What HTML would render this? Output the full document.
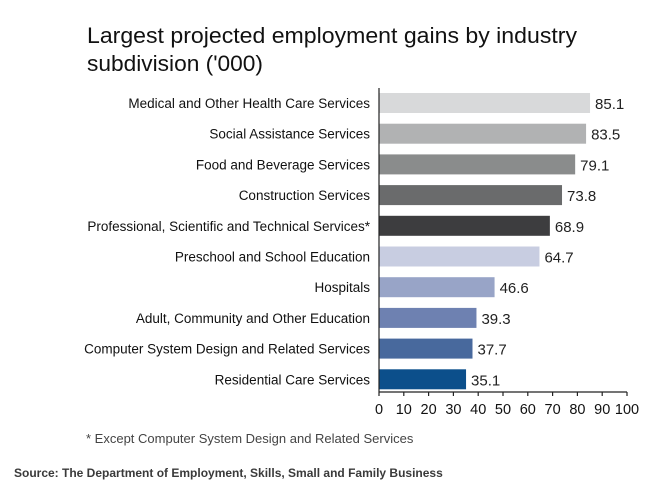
<!DOCTYPE html>
<html><head><meta charset="utf-8"><style>
html,body{margin:0;padding:0;background:#fff;}
svg{display:block;font-family:"Liberation Sans",Arial,sans-serif;}
</style></head><body>
<svg id="chart" width="660" height="499" viewBox="0 0 660 499">
<text x="87" y="43" font-size="22.5" fill="#111" textLength="490" lengthAdjust="spacingAndGlyphs">Largest projected employment gains by industry</text>
<text x="87" y="71" font-size="22.5" fill="#111" textLength="176" lengthAdjust="spacingAndGlyphs">subdivision ('000)</text>
<g id="bars"></g>
<g id="axis"></g>
<text x="86" y="443" font-size="13" fill="#444">* Except Computer System Design and Related Services</text>
<text x="14" y="477" font-size="12" font-weight="bold" fill="#3a3a3a">Source: The Department of Employment, Skills, Small and Family Business</text>
</svg>
<script>
const categories=["Medical and Other Health Care Services","Social Assistance Services","Food and Beverage Services","Construction Services","Professional, Scientific and Technical Services*","Preschool and School Education","Hospitals","Adult, Community and Other Education","Computer System Design and Related Services","Residential Care Services"];
const values=[85.1,83.5,79.1,73.8,68.9,64.7,46.6,39.3,37.7,35.1];
const valueLabels=["85.1","83.5","79.1","73.8","68.9","64.7","46.6","39.3","37.7","35.1"];
const tickValues=[0,10,20,30,40,50,60,70,80,90,100];
const colors=["#d8d9da","#b1b2b3","#8a8c8c","#6a6b6c","#3d3d3f","#c8cde1","#98a4c7","#6e81b1","#48699d","#0c4f8b"];
const NS="http://www.w3.org/2000/svg";
const x0=379,x1=627,top0=93,pitch=30.7,bh=20,axisY=392;
const xs=v=>x0+(v-0)/(100-0)*(x1-x0);
const ys=i=>top0+i*pitch;
function mk(t,a,p){const e=document.createElementNS(NS,t);for(const k in a)e.setAttribute(k,a[k]);p.appendChild(e);return e;}
const bars=document.getElementById('bars'),axis=document.getElementById('axis');
categories.forEach((c,i)=>{
 const r=mk('rect',{x:x0,y:ys(i),width:xs(values[i])-x0,height:bh,fill:colors[i]},bars);
 
 
 const l=mk('text',{x:370,y:ys(i)+15,'font-size':13.5,'text-anchor':'end',fill:'#111'},bars);
 l.textContent=c;
 
 
 const v=mk('text',{x:xs(values[i])+5,y:ys(i)+16,'font-size':15,fill:'#222'},bars);
 v.textContent=valueLabels[i];
 
 
});
const yl=mk('line',{x1:x0,y1:88,x2:x0,y2:axisY,stroke:'#222','stroke-width':1.2},axis);


const xl=mk('line',{x1:x0,y1:axisY,x2:x1,y2:axisY,stroke:'#222','stroke-width':1.2},axis);


tickValues.forEach(t=>{
 const tk=mk('line',{x1:xs(t),y1:axisY,x2:xs(t),y2:axisY+4,stroke:'#222','stroke-width':1.2},axis);
 
 
 const tl=mk('text',{x:xs(t),y:axisY+22,'font-size':14.5,'text-anchor':'middle',fill:'#111'},axis);
 tl.textContent=t;
 
 
});
</script>
</body></html>
